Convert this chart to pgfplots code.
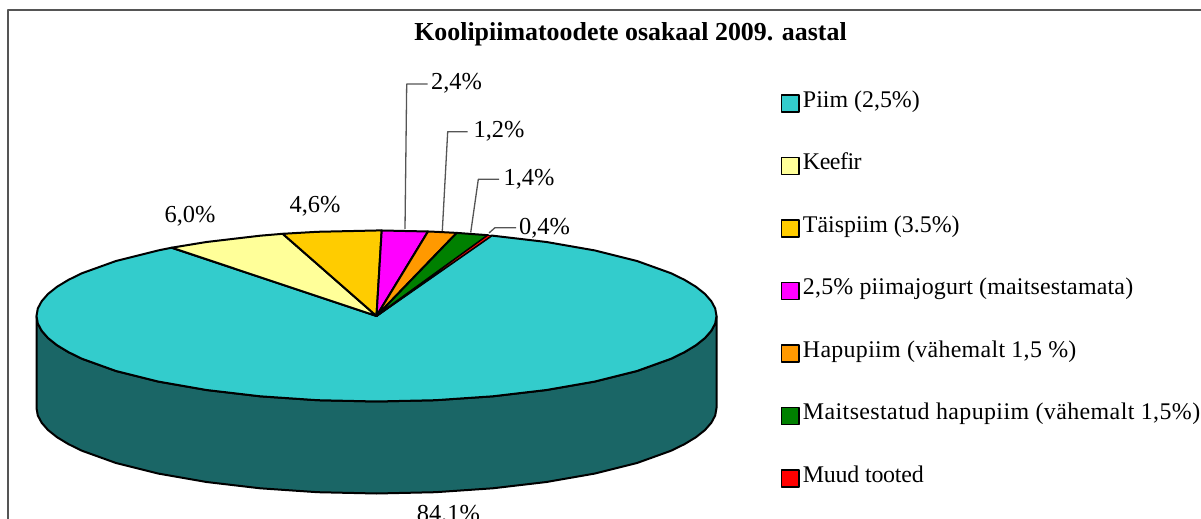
\documentclass[border=0pt]{standalone}
\usepackage{pgfplots}
\pgfplotsset{compat=1.18}
\usepackage{fontspec}
\setmainfont{Liberation Serif}
\definecolor{cPiim}{HTML}{33CCCC}
\definecolor{cSide}{HTML}{1A6666}
\definecolor{cKeefir}{HTML}{FFFF99}
\definecolor{cTais}{HTML}{FFCC00}
\definecolor{cJog}{HTML}{FF00FF}
\definecolor{cHapu}{HTML}{FF9900}
\definecolor{cMait}{HTML}{008000}
\definecolor{cMuud}{HTML}{FF0000}
\definecolor{cLead}{HTML}{555555}
\begin{document}
\begin{tikzpicture}[x=1bp,y=1bp]
\path[use as bounding box,clip] (0,0) rectangle (1201,519);
\begin{axis}[
  at={(0,0)},anchor=south west,
  scale only axis,width=1201bp,height=519bp,
  xmin=0,xmax=1201,ymin=0,ymax=519,y dir=reverse,
  hide axis,clip=false,
  area legend,
  legend style={at={(axis cs:780.7,92.5)},anchor=north west,draw=none,fill=none,
    row sep=40bp,inner sep=0pt,outer sep=0pt,
    font=\fontsize{24}{24}\selectfont,
    nodes={text height=15bp,text depth=7.5bp,inner sep=0pt,outer sep=0pt}},
  legend cell align=left,
  legend image code/.code={\draw[#1,line width=1.5bp] (0bp,-8.5bp) rectangle (17.5bp,8.5bp);\path[draw=none,fill=none] (0bp,0bp) -- (21.5bp,0bp);},
  every axis plot/.append style={line width=2bp,draw=black,line join=round},
]
% frame
\addplot[forget plot,draw=cLead,line width=2.2bp] coordinates {(8,519)(8,10)(1201,10)};
% side wall
\addplot[forget plot,fill=cSide] coordinates {
(36.5,316)(37.8,323.5)(41.7,330.8)(48.1,338.1)(57,345.2)(68.4,352.1)(82.1,358.8)(116,371)(157.9,381.5)(206.5,390)(260.2,396.3)(317.5,400.2)(376.5,401.5)(435.5,400.2)(492.8,396.3)(546.5,390)(595.1,381.5)(637,371)(670.9,358.8)(684.6,352.1)(696,345.2)(704.9,338.1)(711.3,330.8)(715.2,323.5)(716.5,316)
(716.5,408)(715.2,415.5)(711.3,422.8)(704.9,430.1)(696,437.2)(684.6,444.1)(670.9,450.8)(637,463)(595.1,473.5)(546.5,482)(492.8,488.3)(435.5,492.2)(376.5,493.5)(317.5,492.2)(260.2,488.3)(206.5,482)(157.9,473.5)(116,463)(82.1,450.8)(68.4,444.1)(57,437.2)(48.1,430.1)(41.7,422.8)(37.8,415.5)(36.5,408)
} -- cycle;
% Piim 84.1
\addplot[fill=cPiim] coordinates {
(376.5,316)(491.7,235.6)(492.8,235.7)(546.5,242)(595.1,250.5)(637,261)(670.9,273.2)(684.6,279.9)(696,286.8)(704.9,293.9)(711.3,301.2)(715.2,308.5)(716.5,316)(715.2,323.5)(711.3,330.8)(704.9,338.1)(696,345.2)(684.6,352.1)(670.9,358.8)(637,371)(595.1,381.5)(546.5,390)(492.8,396.3)(435.5,400.2)(376.5,401.5)(317.5,400.2)(260.2,396.3)(206.5,390)(157.9,381.5)(116,371)(82.1,358.8)(68.4,352.1)(57,345.2)(48.1,338.1)(41.7,330.8)(37.8,323.5)(36.5,316)(37.8,308.5)(41.7,301.2)(48.1,293.9)(57,286.8)(68.4,279.9)(82.1,273.2)(116,261)(157.9,250.5)(171.7,247.7)
} -- cycle;
\addlegendentry{Piim (2,5\%)}
% Keefir 6.0
\addplot[fill=cKeefir] coordinates {(376.5,316)(171.7,247.7)(206.5,242)(260.2,235.7)(282.7,233.8)} -- cycle;
\addlegendentry{\addfontfeature{LetterSpace=-2}Keefir}
% Taispiim 4.6
\addplot[fill=cTais] coordinates {(376.5,316)(282.7,233.8)(317.5,231.8)(376.5,230.5)(381.7,230.5)} -- cycle;
\addlegendentry{Täispiim (3.5\%)}
% jogurt 2.4
\addplot[fill=cJog] coordinates {(376.5,316)(381.7,230.5)(428,231.5)} -- cycle;
\addlegendentry{\addfontfeature{LetterSpace=0.8}2,5\% piimajogurt (maitsestamata)}
% Hapupiim 1.2
\addplot[fill=cHapu] coordinates {(376.5,316)(428,231.5)(435.5,231.8)(456.7,232.9)} -- cycle;
\addlegendentry{\addfontfeature{LetterSpace=1.3}Hapupiim (vähemalt 1,5 \%)}
% Maitsestatud 1.4
\addplot[fill=cMait] coordinates {(376.5,316)(456.7,232.9)(488,235.2)} -- cycle;
\addlegendentry{\addfontfeature{LetterSpace=1.7}Maitsestatud hapupiim (vähemalt 1,5\%)}
% Muud 0.4
\addplot[fill=cMuud,line width=1bp] coordinates {(376.5,316)(488,235.2)(491.7,235.6)} -- cycle;
\addlegendentry{\addfontfeature{LetterSpace=-1}Muud tooted}
% leader lines
\addplot[forget plot,draw=cLead,line width=1.3bp] coordinates {(405,229)(406.7,84)(427.7,84)};
\addplot[forget plot,draw=cLead,line width=1.3bp] coordinates {(442.3,231)(447.7,131.7)(467.7,131.7)};
\addplot[forget plot,draw=cLead,line width=1.3bp] coordinates {(470.7,232.5)(478.3,179.3)(499,179.3)};
\addplot[forget plot,draw=cLead,line width=1.3bp] coordinates {(489,233)(495,227.7)(516,227.7)};
\node[font=\fontsize{26}{26}\selectfont\bfseries,anchor=center] at (axis cs:630.5,34) {Koolipiimatoodete osakaal 2009. aastal};
\begin{scope}[every node/.style={font=\fontsize{24.5}{24.5}\selectfont,inner sep=0pt,anchor=center}]
\node at (axis cs:456.5,83) {2,4\%};
\node at (axis cs:499,131) {1,2\%};
\node at (axis cs:529,179) {1,4\%};
\node at (axis cs:544.5,228) {0,4\%};
\node at (axis cs:190,216) {6,0\%};
\node at (axis cs:315,206) {4,6\%};
\node at (axis cs:448.5,515) {84,1\%};
\end{scope}
\end{axis}
\end{tikzpicture}
\end{document}
